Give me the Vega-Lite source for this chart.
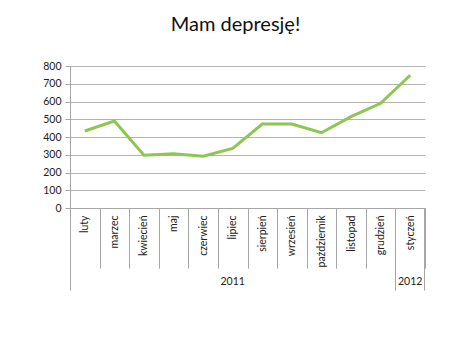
{
  "$schema": "https://vega.github.io/schema/vega-lite/v6.json",
  "width": 355,
  "height": 142,
  "autosize": "none",
  "padding": {"left": 70, "top": 66, "right": 45, "bottom": 143},
  "background": "white",
  "config": {
    "font": "Lato",
    "view": {"stroke": null},
    "axis": {"labelFont": "Lato", "labelColor": "#222222", "labelFontSize": 10.5}
  },
  "title": {
    "text": "Mam depresję!",
    "font": "Lato",
    "fontSize": 20,
    "fontWeight": "normal",
    "color": "#111111",
    "anchor": "middle",
    "dx": -12,
    "offset": 26
  },
  "data": {
    "values": [
      {"month": "luty", "year": "2011", "value": 434},
      {"month": "marzec", "year": "2011", "value": 490},
      {"month": "kwiecień", "year": "2011", "value": 297},
      {"month": "maj", "year": "2011", "value": 306},
      {"month": "czerwiec", "year": "2011", "value": 292},
      {"month": "lipiec", "year": "2011", "value": 336},
      {"month": "sierpień", "year": "2011", "value": 473},
      {"month": "wrzesień", "year": "2011", "value": 473},
      {"month": "październik", "year": "2011", "value": 424},
      {"month": "listopad", "year": "2011", "value": 515},
      {"month": "grudzień", "year": "2011", "value": 590},
      {"month": "styczeń", "year": "2012", "value": 748}
    ]
  },
  "resolve": {"axis": {"x": "independent"}},
  "layer": [
    {
      "mark": {"type": "line", "color": "#8dc751", "strokeWidth": 3},
      "encoding": {
        "x": {
          "field": "month", "type": "nominal", "sort": null,
          "scale": {"paddingInner": 0, "paddingOuter": 0},
          "axis": {
            "title": null, "orient": "bottom",
            "labelAngle": -90, "labelAlign": "right", "labelBaseline": "middle",
            "labelPadding": -53, "tickBand": "extent", "tickSize": 60,
            "tickColor": "#a6a6a6", "domainColor": "#a6a6a6", "grid": false
          }
        },
        "y": {
          "field": "value", "type": "quantitative",
          "scale": {"domain": [0, 800], "nice": false},
          "axis": {
            "title": null, "values": [0, 100, 200, 300, 400, 500, 600, 700, 800],
            "tickSize": 5, "tickColor": "#a6a6a6", "domainColor": "#a6a6a6",
            "gridColor": "#b3b3b3", "labelPadding": 4
          }
        }
      }
    },
    {
      "mark": {"type": "line", "opacity": 0},
      "encoding": {
        "x": {
          "field": "month", "type": "nominal", "sort": null,
          "axis": {
            "title": null, "orient": "bottom", "values": ["luty", "styczeń"],
            "bandPosition": 0, "tickSize": 82, "tickColor": "#a6a6a6",
            "labels": false, "domain": false, "grid": false
          }
        },
        "y": {
          "field": "value", "type": "quantitative",
          "axis": {
            "title": null, "values": [0, 100, 200, 300, 400, 500, 600, 700, 800],
            "tickSize": 5, "tickColor": "#a6a6a6", "domainColor": "#a6a6a6",
            "gridColor": "#b3b3b3", "labelPadding": 4
          }
        }
      }
    },
    {
      "mark": {"type": "line", "opacity": 0},
      "encoding": {
        "x": {
          "field": "month", "type": "nominal", "sort": null,
          "axis": {
            "title": null, "orient": "bottom", "values": ["styczeń"],
            "bandPosition": 1, "tickSize": 82, "tickColor": "#a6a6a6",
            "labels": false, "domain": false, "grid": false
          }
        },
        "y": {
          "field": "value", "type": "quantitative",
          "axis": {
            "title": null, "values": [0, 100, 200, 300, 400, 500, 600, 700, 800],
            "tickSize": 5, "tickColor": "#a6a6a6", "domainColor": "#a6a6a6",
            "gridColor": "#b3b3b3", "labelPadding": 4
          }
        }
      }
    },
    {
      "mark": {"type": "line", "opacity": 0},
      "encoding": {
        "x": {
          "field": "month", "type": "nominal", "sort": null,
          "axis": {
            "title": null, "orient": "bottom", "values": ["lipiec", "styczeń"],
            "labelExpr": "datum.value == 'styczeń' ? '2012' : '2011'",
            "labelAngle": 0, "labelAlign": "center", "labelBaseline": "top",
            "labelPadding": 68, "ticks": false, "domain": false, "grid": false
          }
        },
        "y": {
          "field": "value", "type": "quantitative",
          "axis": {
            "title": null, "values": [0, 100, 200, 300, 400, 500, 600, 700, 800],
            "tickSize": 5, "tickColor": "#a6a6a6", "domainColor": "#a6a6a6",
            "gridColor": "#b3b3b3", "labelPadding": 4
          }
        }
      }
    }
  ]
}
